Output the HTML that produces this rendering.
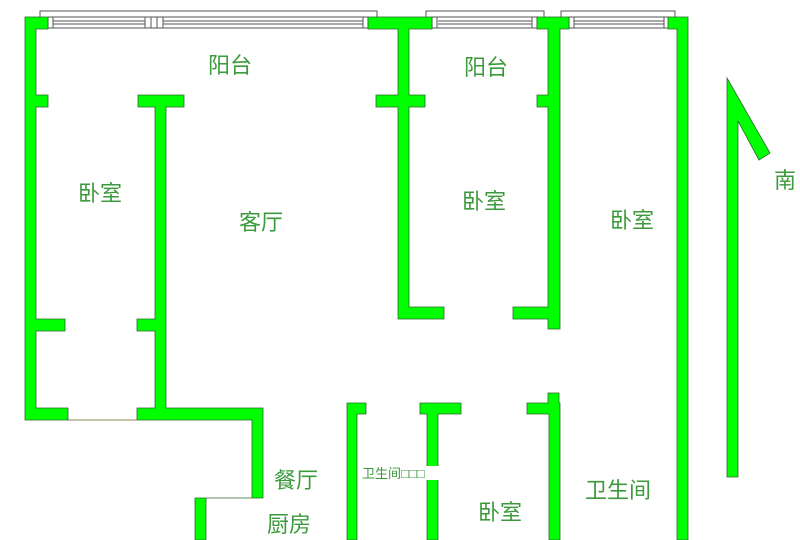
<!DOCTYPE html>
<html><head><meta charset="utf-8"><style>
html,body{margin:0;padding:0;background:#fff;width:800px;height:540px;overflow:hidden}
svg text{font-family:"Liberation Sans","Noto Sans CJK SC",sans-serif;fill:#3c9a3c}
</style></head><body>
<svg width="800" height="540" viewBox="0 0 800 540" xmlns="http://www.w3.org/2000/svg">
<g fill="none" stroke="#555" stroke-width="1">
<polyline points="40,17 40,11 377,11 377,17"/>
<polyline points="426,17 426,11 544,11 544,17"/>
<polyline points="561,17 561,11 675,11 675,17"/>
</g>
<g fill="#fff" stroke="#555" stroke-width="1">
<rect x="48" y="17" width="320" height="11"/>
<rect x="432" y="17" width="106" height="11"/>
<rect x="569" y="17" width="100" height="11"/>
<line x1="53" y1="21" x2="363" y2="21"/><line x1="53" y1="24" x2="363" y2="24"/>
<line x1="438" y1="21" x2="532" y2="21"/><line x1="438" y1="24" x2="532" y2="24"/>
<line x1="574" y1="21" x2="664" y2="21"/><line x1="574" y1="24" x2="664" y2="24"/>
<rect x="48" y="17" width="5" height="11"/><rect x="363" y="17" width="5" height="11"/>
<rect x="145" y="17" width="6" height="11"/><rect x="151" y="17" width="6" height="11"/><rect x="157" y="17" width="6" height="11"/>
<rect x="432" y="17" width="5" height="11"/><rect x="532" y="17" width="5" height="11"/>
<rect x="569" y="17" width="5" height="11"/><rect x="664" y="17" width="5" height="11"/>
</g>
<line x1="68" y1="420" x2="137" y2="420" stroke="#8a8a50" stroke-width="1"/>
<g fill="#00ff00" stroke="#2a6a2a" stroke-width="0.8">
<path d="M25,17 H48 V29 H36 V95 H48 V107 H36 V319 H65 V331 H36 V408 H68 V420 H25 Z"/>
<path d="M138,95 H184 V107 H166 V408 H263 V498 H206 V540 H195 V498 H252 V420 H137 V408 H155 V331 H137 V319 H155 V107 H138 Z"/>
<path d="M368,17 H432 V29 H409 V95 H425 V107 H409 V307 H444 V319 H398 V107 H376 V95 H398 V29 H368 Z"/>
<path d="M537,17 H569 V29 H560 V329 H548 V319 H513 V307 H548 V107 H537 V95 H548 V29 H537 Z"/>
<path d="M668,17 H688 V540 H677 V29 H668 Z"/>
<path d="M347,403 H366 V414 H357 V540 H347 Z"/>
<path d="M420,403 H461 V414 H438 V540 H427 V414 H420 Z"/>
<path d="M527,403 H548 V393 H559 V403 H560 V540 H549 V414 H527 Z"/>
<path d="M727,78 L770,153 L759,160 L738,121 V477 H727 Z"/>
</g>
<rect x="360" y="466" width="80" height="14" fill="#fff"/>
<g font-size="22">
<text x="208" y="73">阳台</text>
<text x="464" y="75">阳台</text>
<text x="78" y="201">卧室</text>
<text x="239" y="230">客厅</text>
<text x="462" y="209">卧室</text>
<text x="610" y="228">卧室</text>
<text x="774" y="188">南</text>
<text x="274" y="488">餐厅</text>
<text x="267" y="532">厨房</text>
<text x="478" y="520">卧室</text>
<text x="585" y="498">卫生间</text>
</g>
<text x="362" y="478" font-size="13">卫生间□□□</text>
</svg>
</body></html>
